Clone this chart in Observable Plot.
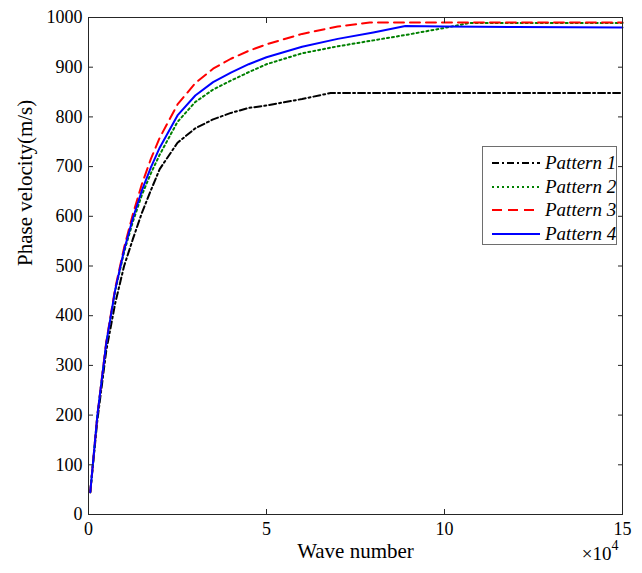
<!DOCTYPE html>
<html><head><meta charset="utf-8">
<script src="https://cdn.jsdelivr.net/npm/d3@7"></script>
<script src="https://cdn.jsdelivr.net/npm/@observablehq/plot@0.6"></script>
<style>
body{margin:0;background:#fff;}
#wrap{position:relative;width:642px;height:573px;font-family:"Liberation Serif","Times New Roman",serif;}
#wrap svg text{font-family:"Liberation Serif","Times New Roman",serif;}
#legend{position:absolute;left:482px;top:146px;width:135px;height:99px;border:1px solid #6e6e6e;background:#fff;box-sizing:border-box;}
#legend .row{position:absolute;left:0;height:24px;width:100%;}
#legend svg{position:absolute;left:8px;top:0;}
#legend span{position:absolute;left:62px;top:1px;font-style:italic;font-size:19px;line-height:22px;color:#000;white-space:nowrap;}
</style></head><body><div id="wrap"></div>
<script>
const seriesNames = ["Pattern 1", "Pattern 2", "Pattern 3", "Pattern 4"];
const seriesColors = ["#000000", "#008000", "#ff0000", "#0000ff"];
const seriesDash = ["7,3,2,3", "2,3", "10,6", null];

// wave number in units of 1e4, phase velocity in m/s
const p1x = [0.05, 0.25, 0.5, 0.75, 1.0, 1.25, 1.5, 1.75, 2.0, 2.5, 3.0, 3.5, 4.0, 4.5, 5.0, 6.0, 6.8, 8, 15];
const p1y = [45, 190, 330, 425, 500, 555, 607, 652, 695, 748, 777, 795, 808, 818, 823, 836, 848, 848, 848];
const p2x = [0.05, 0.25, 0.5, 0.75, 1.0, 1.25, 1.5, 1.75, 2.0, 2.5, 3.0, 3.5, 4.0, 4.5, 5.0, 6.0, 7.0, 8.0, 9.0, 10, 10.7, 15];
const p2y = [45, 200, 345, 450, 528, 590, 643, 686, 724, 790, 830, 855, 873, 890, 906, 928, 942, 954, 966, 979, 989, 989];
const p3x = [0.05, 0.25, 0.5, 0.75, 1.0, 1.25, 1.5, 1.75, 2.0, 2.5, 3.0, 3.5, 4.0, 4.5, 5.0, 6.0, 7.0, 7.9, 15];
const p3y = [45, 200, 348, 455, 537, 605, 665, 715, 758, 825, 868, 897, 917, 933, 946, 967, 982, 990, 990];
const p4x = [0.05, 0.25, 0.5, 0.75, 1.0, 1.25, 1.5, 1.75, 2.0, 2.5, 3.0, 3.5, 4.0, 4.5, 5.0, 6.0, 7.0, 8.0, 8.9, 10, 12, 15];
const p4y = [45, 200, 345, 452, 532, 597, 652, 698, 738, 803, 843, 870, 889, 906, 920, 941, 957, 970, 983, 982, 981, 980];

const xTicks = [0, 5, 10, 15];
const yTicks = [0, 100, 200, 300, 400, 500, 600, 700, 800, 900, 1000];

const allX = [p1x, p2x, p3x, p4x];
const allY = [p1y, p2y, p3y, p4y];
const rows = [];
allX.forEach((xs, s) => xs.forEach((x, i) => rows.push({s, x, y: allY[s][i]})));

const font = '"Liberation Serif","Times New Roman",serif';
const lineMarks = seriesNames.map((n, s) => Plot.line(rows.filter(d => d.s === s), {
  x: "x", y: "y", stroke: seriesColors[s], strokeWidth: 2,
  strokeDasharray: seriesDash[s] || undefined, strokeLinejoin: "round"
}));

const chart = Plot.plot({
  width: 642, height: 573,
  marginLeft: 88, marginRight: 20, marginTop: 17, marginBottom: 59,
  style: {fontFamily: font, background: "#fff", color: "#000", overflow: "visible"},
  x: {domain: [0, 15], label: null},
  y: {domain: [0, 1000], label: null},
  marks: [
    ...lineMarks,
    Plot.frame({stroke: "#262626", strokeWidth: 1}),
    Plot.axisX(xTicks, {anchor: "bottom", tickSize: -5, tickPadding: 13, fontSize: 18, fontFamily: font, fontVariant: "normal", label: null, stroke: "#262626", tickFormat: d => String(d)}),
    Plot.axisX(xTicks, {anchor: "top", tickSize: -5, tickFormat: () => "", label: null, stroke: "#262626"}),
    Plot.axisY(yTicks, {anchor: "left", tickSize: -5, tickPadding: 11, fontSize: 18, fontFamily: font, fontVariant: "normal", label: null, stroke: "#262626", tickFormat: d => String(d)}),
    Plot.axisY(yTicks, {anchor: "right", tickSize: -5, tickFormat: () => "", label: null, stroke: "#262626"}),
    Plot.text(["Wave number"], {frameAnchor: "bottom", dy: 43, fontSize: 21, fontFamily: font, text: d => d, fill: "#000"}),
    Plot.text(["Phase velocity(m/s)"], {frameAnchor: "left", dx: -63, rotate: -90, fontSize: 21, fontFamily: font, text: d => d, fill: "#000"}),
    Plot.text(["\u00d710"], {frameAnchor: "bottom-right", dx: -11, dy: 45, textAnchor: "end", fontSize: 19, fontFamily: font, text: d => d, fill: "#000"}),
    Plot.text(["4"], {frameAnchor: "bottom-right", dx: -11, dy: 35, textAnchor: "start", fontSize: 14, fontFamily: font, text: d => d, fill: "#000"})
  ]
});

const wrap = document.getElementById("wrap");
wrap.appendChild(chart);
const legend = document.createElement("div");
legend.id = "legend";
seriesNames.forEach((n, s) => {
  const row = document.createElement("div");
  row.className = "row";
  row.style.top = (4 + s * 23.5) + "px";
  row.innerHTML = `<svg width="50" height="24"><line x1="1" x2="49" y1="12" y2="12" stroke="${seriesColors[s]}" stroke-width="2" ${seriesDash[s] ? `stroke-dasharray="${seriesDash[s]}"` : ""}/></svg><span>${n}</span>`;
  legend.appendChild(row);
});
wrap.appendChild(legend);
</script>
</body></html>
